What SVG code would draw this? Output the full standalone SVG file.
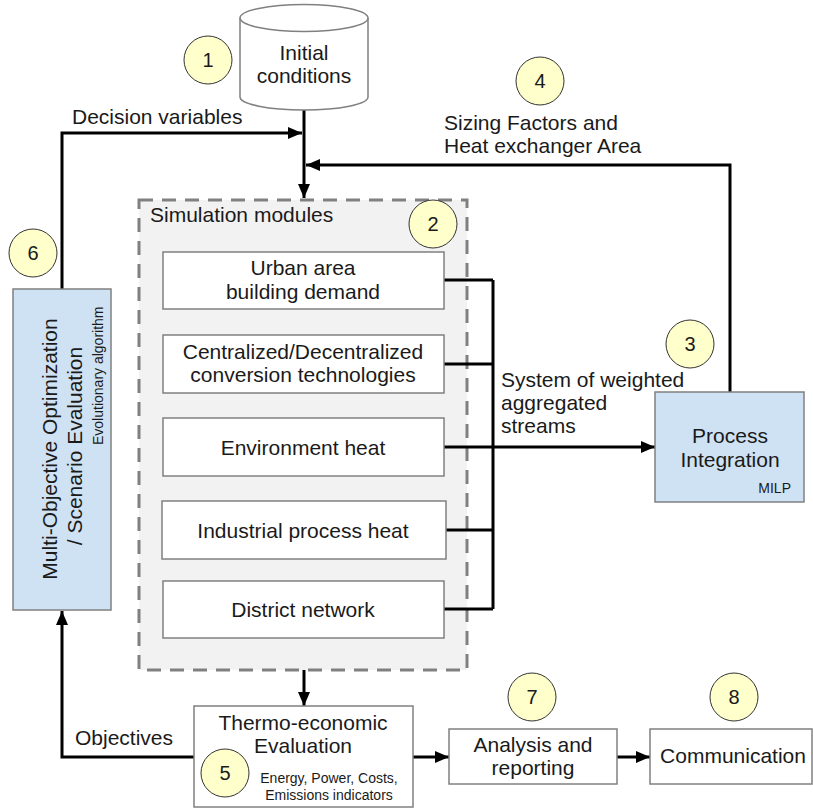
<svg xmlns="http://www.w3.org/2000/svg" width="813" height="810" viewBox="0 0 813 810">
  <style>
    text { font-family: "Liberation Sans", Arial, sans-serif; fill: #1a1a1a; }
    .t { font-size: 21px; }
    .c { text-anchor: middle; }
    .s { font-size: 14px; }
    .box { fill: #ffffff; stroke: #808080; stroke-width: 1.5; }
    .blue { fill: #cfe2f3; stroke: #808080; stroke-width: 1.5; }
    .badge { fill: #ffffcc; stroke: #333333; stroke-width: 1; }
    .num { font-size: 20px; text-anchor: middle; }
    .wire { fill: none; stroke: #000000; stroke-width: 3; }
    .arrow { fill: none; stroke: #000000; stroke-width: 3; marker-end: url(#head); }
  </style>
  <defs>
    <marker id="head" viewBox="0 0 14 12" refX="14" refY="6" markerWidth="14" markerHeight="12" markerUnits="userSpaceOnUse" orient="auto">
      <path d="M0,0 L14,6 L0,12 Z" fill="#000000"/>
    </marker>
  </defs>

  <rect width="813" height="810" fill="#ffffff"/>

  <!-- simulation container -->
  <g id="simulation-modules">
    <rect x="139" y="200" width="328" height="470" fill="#f2f2f2" stroke="#808080" stroke-width="3" stroke-dasharray="14 9"/>
    <text class="t" x="150" y="222">Simulation modules</text>
  </g>

  <!-- connectors -->
  <g id="connectors">
    <path class="wire" d="M304,110 V150"/>
    <path class="arrow" d="M304,150 V198"/>
    <path class="arrow" d="M62,289 V133 H302"/>
    <path class="arrow" d="M730,392 V165 H306"/>
    <path class="wire" d="M444,280 H493 M444,364 H493 M444,530 H493 M444,609 H493 M493,280 V609"/>
    <path class="arrow" d="M444,447 H655"/>
    <path class="arrow" d="M304,670 V706"/>
    <path class="arrow" d="M194,757 H62 V611"/>
    <path class="arrow" d="M413,757 H449"/>
    <path class="arrow" d="M617,757 H650"/>
  </g>

  <g id="initial-conditions">
    <path d="M240,18 V97 A64,13 0 0 0 368,97 V18" fill="#ffffff" stroke="#808080" stroke-width="1.5"/>
    <ellipse cx="304" cy="18" rx="64" ry="13.5" fill="#ffffff" stroke="#808080" stroke-width="1.5"/>
    <text class="t c" x="304" y="60">Initial</text>
    <text class="t c" x="304" y="83">conditions</text>
  </g>

  <g id="label-decision">
    <text class="t" x="72" y="124">Decision variables</text>
  </g>

  <g id="label-sizing">
    <text class="t" x="444" y="130">Sizing Factors and</text>
    <text class="t" x="444" y="153">Heat exchanger Area</text>
  </g>

  <g id="urban-area">
    <rect class="box" x="163" y="252" width="281" height="57"/>
    <text class="t c" x="303" y="275">Urban area</text>
    <text class="t c" x="303" y="299">building demand</text>
  </g>

  <g id="conversion">
    <rect class="box" x="163" y="335" width="281" height="58"/>
    <text class="t c" x="303" y="359">Centralized/Decentralized</text>
    <text class="t c" x="303" y="382">conversion technologies</text>
  </g>

  <g id="environment-heat">
    <rect class="box" x="163" y="418" width="281" height="58"/>
    <text class="t c" x="303" y="455">Environment heat</text>
  </g>

  <g id="industrial-heat">
    <rect class="box" x="162" y="501" width="284" height="58"/>
    <text class="t c" x="303" y="538">Industrial process heat</text>
  </g>

  <g id="district-network">
    <rect class="box" x="163" y="581" width="281" height="57"/>
    <text class="t c" x="303" y="617">District network</text>
  </g>

  <g id="label-streams">
    <text class="t" x="501" y="387">System of weighted</text>
    <text class="t" x="501" y="410">aggregated</text>
    <text class="t" x="501" y="433">streams</text>
  </g>

  <g id="process-integration">
    <rect class="blue" x="655" y="392" width="149" height="110"/>
    <text class="t c" x="730" y="443">Process</text>
    <text class="t c" x="730" y="467">Integration</text>
    <text class="s" x="791" y="493" text-anchor="end">MILP</text>
  </g>

  <g id="optimization">
    <rect class="blue" x="13" y="289" width="98" height="321"/>
    <text class="t c" transform="translate(57,449) rotate(-90)">Multi-Objective Optimization</text>
    <text class="t c" transform="translate(82,446) rotate(-90)">/ Scenario Evaluation</text>
    <text class="s" transform="translate(103,445) rotate(-90)">Evolutionary algorithm</text>
  </g>

  <g id="label-objectives">
    <text class="t" x="75" y="745">Objectives</text>
  </g>

  <g id="thermo-economic">
    <rect class="box" x="194" y="706" width="219" height="101"/>
    <text class="t c" x="303" y="730">Thermo-economic</text>
    <text class="t c" x="303" y="753">Evaluation</text>
    <text class="s c" x="329" y="783">Energy, Power, Costs,</text>
    <text class="s c" x="329" y="800">Emissions indicators</text>
  </g>

  <g id="analysis">
    <rect class="box" x="449" y="729" width="168" height="55"/>
    <text class="t c" x="533" y="752">Analysis and</text>
    <text class="t c" x="533" y="775">reporting</text>
  </g>

  <g id="communication">
    <rect class="box" x="650" y="729" width="162" height="55"/>
    <text class="t c" x="733" y="763">Communication</text>
  </g>

  <!-- step badges -->
  <g id="badge-1"><circle class="badge" cx="208" cy="60" r="24"/><text class="num" x="208" y="67">1</text></g>
  <g id="badge-2"><circle class="badge" cx="433" cy="224" r="24"/><text class="num" x="433" y="231">2</text></g>
  <g id="badge-3"><circle class="badge" cx="690" cy="344" r="24"/><text class="num" x="690" y="351">3</text></g>
  <g id="badge-4"><circle class="badge" cx="540" cy="81" r="24"/><text class="num" x="540" y="88">4</text></g>
  <g id="badge-5"><circle class="badge" cx="225" cy="773" r="24"/><text class="num" x="225" y="780">5</text></g>
  <g id="badge-6"><circle class="badge" cx="33" cy="253" r="24"/><text class="num" x="33" y="260">6</text></g>
  <g id="badge-7"><circle class="badge" cx="532" cy="697" r="24"/><text class="num" x="532" y="704">7</text></g>
  <g id="badge-8"><circle class="badge" cx="734" cy="697" r="24"/><text class="num" x="734" y="704">8</text></g>
</svg>
